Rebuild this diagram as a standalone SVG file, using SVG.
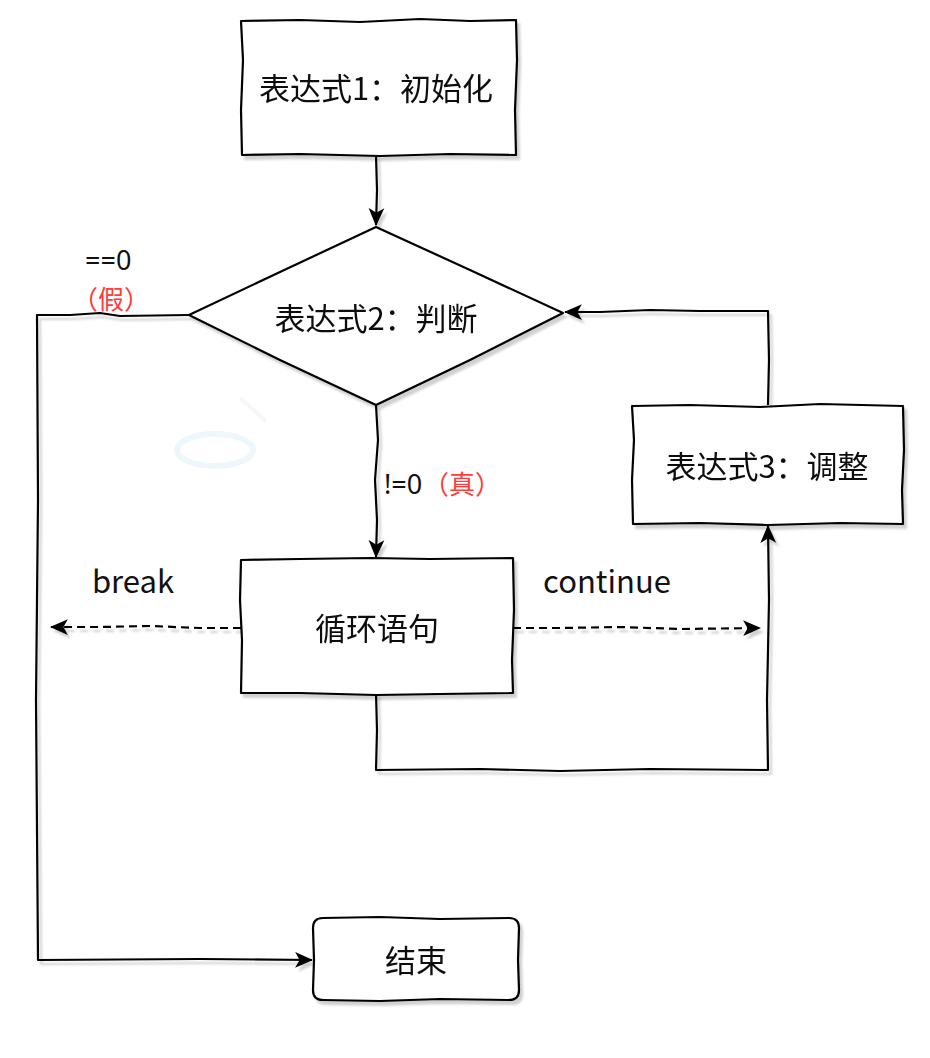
<svg xmlns="http://www.w3.org/2000/svg" width="930" height="1058" viewBox="0 0 930 1058">
<defs>
<marker id="ah" viewBox="0 0 16 16" refX="15" refY="8" markerWidth="18" markerHeight="18" markerUnits="userSpaceOnUse" orient="auto">
<path d="M0,1 L16,8 L0,15 L4,8 Z" fill="#000"/>
</marker>
<filter id="sh" x="-5%" y="-5%" width="115%" height="115%">
<feDropShadow dx="3" dy="4" stdDeviation="1.2" flood-color="#000" flood-opacity="0.18"/>
</filter>
</defs>
<style>
.n{fill:#fff;stroke:#000;stroke-width:2.2;stroke-linejoin:round}
.c{fill:none;stroke:#000;stroke-width:2.2;stroke-linejoin:round}
.d{stroke-dasharray:8 5}
.t{font-family:"Noto Sans CJK SC","Noto Sans",sans-serif;font-size:31px;fill:#111;text-anchor:middle}
.s{font-family:"Noto Sans","Noto Sans CJK SC",sans-serif;font-size:27px;fill:#111}
.r{font-family:"Noto Sans CJK SC",sans-serif;font-size:26px;fill:#ff3b3b;text-anchor:middle}
</style>
<rect width="930" height="1058" fill="#fff"/>
<ellipse cx="215" cy="450" rx="38" ry="16" fill="none" stroke="#eef7fc" stroke-width="6"/>
<path d="M240,398 L266,421" stroke="#f7f7f7" stroke-width="4" fill="none"/>
<g id="connectors" filter="url(#sh)">
<path class="c" d="M376,155 L377,190 L376,225" marker-end="url(#ah)"/>
<path class="c" d="M189,315 L120,316 L100,313 L70,315 L37,315 L38,500 L36,700 L38,960 L200,959 L312,960" marker-end="url(#ah)"/>
<path class="c" d="M376,405 L378,440 L375,480 L377,520 L376,557" marker-end="url(#ah)"/>
<path class="c d" d="M241,628 L200,628 L150,626 L100,627 L51,627" marker-end="url(#ah)"/>
<path class="c d" d="M513,628 L560,628 L620,627 L680,629 L760,628" marker-end="url(#ah)"/>
<path class="c" d="M376,693 L377,730 L376,770 L480,769 L560,771 L650,769 L768,770 L767,700 L769,600 L768,526" marker-end="url(#ah)"/>
<path class="c" d="M768,405 L769,360 L768,311 L700,311 L650,310 L600,312 L565,312" marker-end="url(#ah)"/>
</g>
<g id="n1" filter="url(#sh)">
<path class="n" d="M241,21 L300,20 L360,22 L420,19 L470,21 L516,20 L517,60 L515,110 L516,155 L450,154 L380,156 L300,154 L242,155 L241,110 L243,60 Z"/>
<text class="t" x="376" y="100">表达式1：初始化</text>
</g>
<g id="n2" filter="url(#sh)">
<path class="n" d="M189,315 L280,272 L376,227 L470,270 L563,313 L470,360 L376,405 L280,360 Z"/>
<text class="t" x="376" y="330">表达式2：判断</text>
</g>
<g id="n3" filter="url(#sh)">
<path class="n" d="M241,560 L300,559 L370,558 L430,559 L513,558 L514,610 L512,660 L513,693 L440,694 L376,695 L300,693 L241,693 L242,640 L240,600 Z"/>
<text class="t" x="377" y="640">循环语句</text>
</g>
<g id="n4" filter="url(#sh)">
<path class="n" d="M632,406 L690,405 L760,407 L820,404 L903,406 L904,450 L902,490 L903,524 L840,523 L768,525 L700,523 L633,524 L632,480 L634,440 Z"/>
<text class="t" x="767" y="478">表达式3：调整</text>
</g>
<g id="n5" filter="url(#sh)">
<path class="n" d="M323,918 L380,917 L440,919 L509,918 Q519,918 519,928 L518,960 L519,990 Q519,1000 509,1000 L440,999 L380,1001 L323,1000 Q313,1000 313,990 L314,960 L313,928 Q313,918 323,918 Z"/>
<text class="t" x="416" y="972">结束</text>
</g>
<g id="labels">
<text class="s" x="85" y="270">==0</text>
<text class="r" x="111" y="309">（假）</text>
<text class="s" x="384" y="494">!=0</text>
<text class="r" x="462" y="494">（真）</text>
<text class="t" x="133" y="593">break</text>
<text class="t" x="607" y="593">continue</text>
</g>
</svg>
